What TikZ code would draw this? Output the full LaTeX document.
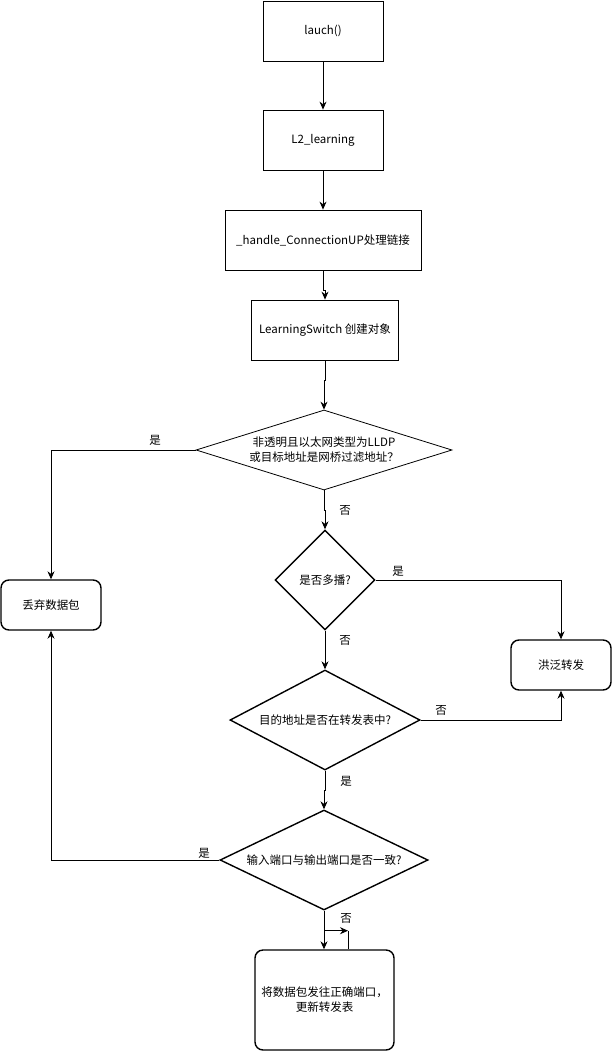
\documentclass[tikz,border=0pt]{standalone}
\usepackage{fontspec}
\setmainfont{Noto Sans CJK SC}
\usepackage{tikz}
\usetikzlibrary{arrows.meta,shapes.geometric,calc}
\newcommand\fs{\fontsize{11.5}{15}\selectfont}
\tikzset{
  box/.style={draw,line width=0.8pt,minimum height=60pt,inner sep=2pt,align=center,font=\fs},
  soft/.style={box,rounded corners=8pt,line width=1.4pt,minimum height=50pt,minimum width=100pt},
  test/.style={draw,shape=diamond,inner sep=0pt,align=center,font=\fs,line width=1.4pt},
  lbl/.style={font=\fs,inner sep=1pt},
  arr/.style={-{Stealth[length=8pt,width=7pt]},line width=0.8pt},
  wire/.style={line width=0.8pt},
}

\begin{document}
\begin{tikzpicture}[x=1pt,y=-1pt]
  \useasboundingbox (0,0) rectangle (612,1052);
  \node[box,minimum width=120pt] (launch) at (323,31) {lauch()};
  \node[box,minimum width=120pt] (l2) at (323,140) {L2\_learning};
  \node[box,minimum width=196pt] (handle) at (323,240) {\_handle\_ConnectionUP处理链接};
  \node[box,minimum width=147pt] (learn) at (325,330) {LearningSwitch 创建对象};
  \node[test,line width=0.8pt,aspect=3.2,minimum width=256pt,minimum height=80pt] (lldp) at (324,450) {非透明且以太网类型为LLDP\\或目标地址是网桥过滤地址？};
  \node[test,aspect=1,minimum width=100pt,minimum height=100pt] (multi) at (325,580) {是否多播?};
  \node[test,aspect=1.9,minimum width=190pt,minimum height=100pt] (intab) at (325,720) {目的地址是否在转发表中?};
  \node[test,aspect=2.08,minimum width=208pt,minimum height=100pt] (same) at (324,860) {输入端口与输出端口是否一致?};
  \node[soft] (drop) at (51,605) {丢弃数据包};
  \node[soft] (flood) at (561,665) {洪泛转发};
  \node[soft,minimum width=139pt,minimum height=100pt] (send) at (324.5,1000) {将数据包发往正确端口，\\更新转发表};

  \draw[arr] (launch) -- (l2);
  \draw[arr] (l2) -- (handle);
  \draw[arr] (handle.south) -- ++(0,20) -| (learn.north);
  \draw[arr] (learn.south) -- ++(0,20) -| (lldp.north);
  \draw[arr] (lldp.west) -| (drop.north);
  \draw[arr] (lldp.south) -- ++(0,20) -| (multi.north);
  \draw[arr] (multi.east) -| (flood.north);
  \draw[arr] (multi.south) -- (intab.north);
  \draw[arr] (intab.east) -| (flood.south);
  \draw[arr] (intab.south) -- ++(0,20) -| (same.north);
  \draw[arr] (same.west) -| (drop.south);
  \draw[arr] (same.south) -- (same.south |- send.north);
  \coordinate (kink) at ($(same.south)+(0,20)$);
  \draw[arr] (kink) -- ++(24,0) coordinate (hook);
  \draw[wire] (hook) -- (hook |- send.north);

  \node[lbl] (yes1) at (155,440) {是};
  \node[lbl] (no1) at (345,510) {否};
  \node[lbl] (yes2) at (398,571) {是};
  \node[lbl] (no2) at (345,640) {否};
  \node[lbl] (no3) at (441,710) {否};
  \node[lbl] (yes3) at (346,781) {是};
  \node[lbl] (yes4) at (204,853) {是};
  \node[lbl] (no4) at (346,918) {否};
\end{tikzpicture}
\end{document}
